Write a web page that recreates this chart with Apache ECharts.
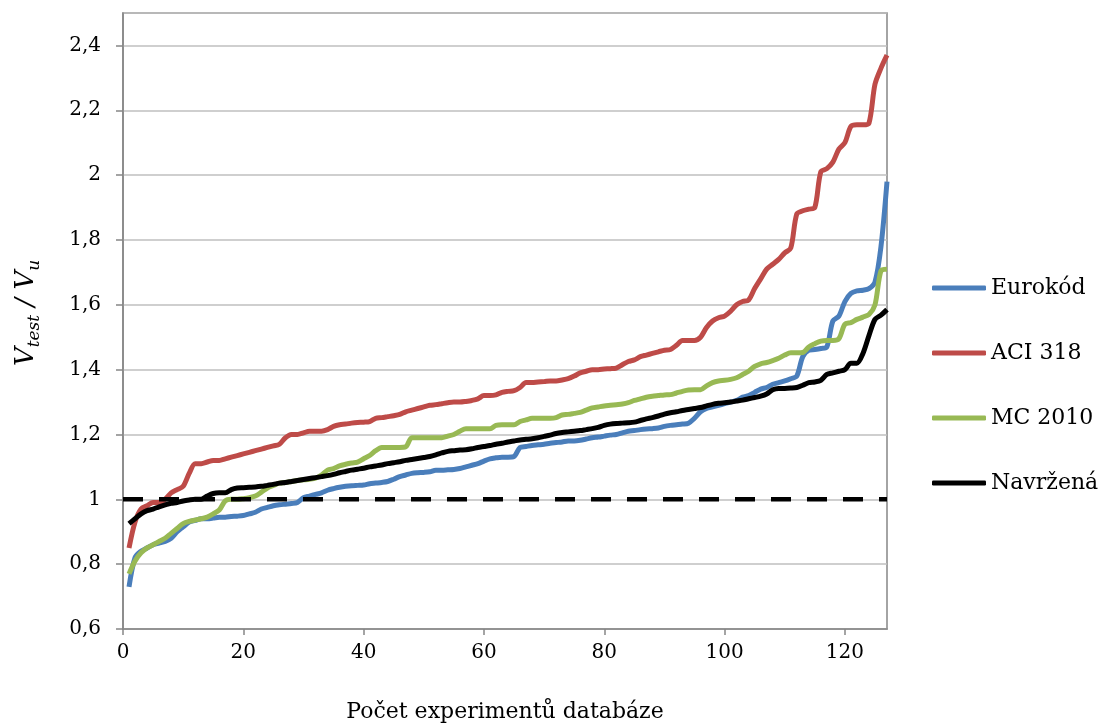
<!DOCTYPE html>
<html>
<head>
<meta charset="utf-8">
<script src="https://cdn.jsdelivr.net/npm/echarts@6/dist/echarts.min.js"></script>
<style>
html, body { margin: 0; padding: 0; background: #fff; }
#chart { width: 1109px; height: 724px; }
</style>
</head>
<body>
<div id="chart"></div>
<script>
// hodnoty Vtest/Vu serazene podle velikosti, experiment 1..127
var eurokod = [
    0.73, 0.82, 0.84, 0.85, 0.86, 0.865, 0.87, 0.88, 0.90, 0.915,
    0.93, 0.935, 0.94, 0.94, 0.942, 0.945, 0.945, 0.947, 0.948, 0.95,
    0.955, 0.96, 0.97, 0.975, 0.98, 0.983, 0.985, 0.987, 0.99, 1.005,
    1.01, 1.015, 1.02, 1.028, 1.033, 1.037, 1.04, 1.042, 1.043, 1.044,
    1.048, 1.05, 1.052, 1.055, 1.062, 1.07, 1.075, 1.08, 1.082, 1.083,
    1.085, 1.09, 1.09, 1.091, 1.092, 1.095, 1.10, 1.105, 1.11, 1.118,
    1.125, 1.128, 1.13, 1.13, 1.132, 1.16, 1.163, 1.166, 1.168, 1.17,
    1.173, 1.175, 1.177, 1.18, 1.18, 1.182, 1.186, 1.19, 1.192, 1.195,
    1.198, 1.20, 1.205, 1.21, 1.212, 1.215, 1.217, 1.218, 1.22, 1.225,
    1.228, 1.23, 1.232, 1.235, 1.25, 1.27, 1.28, 1.285, 1.29, 1.295,
    1.30, 1.305, 1.315, 1.32, 1.33, 1.34, 1.345, 1.355, 1.36, 1.365,
    1.372, 1.38, 1.44, 1.46, 1.462, 1.465, 1.47, 1.55, 1.565, 1.61,
    1.635, 1.643, 1.645, 1.65, 1.67, 1.78, 1.98
];
var aci318 = [
    0.85, 0.93, 0.97, 0.98, 0.99, 0.99, 1.00, 1.02, 1.03, 1.04,
    1.08, 1.11, 1.11, 1.115, 1.12, 1.12, 1.125, 1.13, 1.135, 1.14,
    1.145, 1.15, 1.155, 1.16, 1.165, 1.17, 1.19, 1.20, 1.20, 1.205,
    1.21, 1.21, 1.21, 1.215, 1.225, 1.23, 1.232, 1.235, 1.237, 1.238,
    1.24, 1.25, 1.252, 1.255, 1.258, 1.262, 1.27, 1.275, 1.28, 1.285,
    1.29, 1.292, 1.295, 1.298, 1.30, 1.30, 1.302, 1.305, 1.31, 1.32,
    1.32, 1.322, 1.33, 1.333, 1.335, 1.345, 1.36, 1.36, 1.362, 1.363,
    1.365, 1.365, 1.368, 1.372, 1.38, 1.39, 1.395, 1.40, 1.40, 1.402,
    1.403, 1.405, 1.415, 1.425, 1.43, 1.44, 1.445, 1.45, 1.455, 1.46,
    1.462, 1.475, 1.49, 1.49, 1.49, 1.50, 1.53, 1.55, 1.56, 1.565,
    1.58, 1.60, 1.61, 1.615, 1.65, 1.68, 1.71, 1.725, 1.74, 1.76,
    1.775, 1.88, 1.89, 1.895, 1.90, 2.01, 2.02, 2.04, 2.08, 2.10,
    2.15, 2.155, 2.155, 2.16, 2.28, 2.33, 2.37
];
var mc2010 = [
    0.77, 0.81, 0.835, 0.85, 0.86, 0.87, 0.88, 0.895, 0.91, 0.925,
    0.932, 0.936, 0.94, 0.945, 0.955, 0.967, 0.995, 1.0, 1.0, 1.002,
    1.005, 1.01, 1.022, 1.035, 1.043, 1.05, 1.052, 1.055, 1.058, 1.06,
    1.062, 1.065, 1.075, 1.09, 1.095, 1.103, 1.108, 1.112, 1.115, 1.125,
    1.135, 1.15, 1.16, 1.16, 1.16, 1.16, 1.162, 1.19, 1.19, 1.19,
    1.19, 1.19, 1.19, 1.195, 1.20, 1.21, 1.218, 1.218, 1.218, 1.218,
    1.218, 1.228, 1.23, 1.23, 1.23, 1.24, 1.245, 1.25, 1.25, 1.25,
    1.25, 1.252, 1.26, 1.262, 1.265, 1.268, 1.275, 1.282, 1.285, 1.288,
    1.29, 1.292, 1.294, 1.298, 1.305, 1.31, 1.315, 1.318, 1.32, 1.322,
    1.323, 1.328, 1.333, 1.337, 1.338, 1.338, 1.35, 1.36, 1.365, 1.367,
    1.37, 1.375, 1.385, 1.395, 1.41, 1.418, 1.422, 1.428, 1.435, 1.445,
    1.452, 1.452, 1.453, 1.47, 1.48, 1.488, 1.49, 1.49, 1.495, 1.54,
    1.545, 1.555, 1.562, 1.57, 1.60, 1.705, 1.71
];
var navrzena = [
    0.925, 0.94, 0.955, 0.965, 0.97, 0.977, 0.983, 0.988, 0.99, 0.995,
    0.998, 1.0, 1.0, 1.01, 1.018, 1.02, 1.02, 1.03, 1.035, 1.036,
    1.037, 1.038, 1.04, 1.043, 1.046, 1.05, 1.052, 1.055, 1.058, 1.061,
    1.064, 1.067, 1.07, 1.073, 1.077, 1.082, 1.086, 1.09, 1.093, 1.096,
    1.1, 1.103, 1.106, 1.11, 1.113, 1.116, 1.12, 1.123, 1.126, 1.129,
    1.132, 1.137, 1.143, 1.148, 1.15, 1.152, 1.153, 1.156, 1.16, 1.163,
    1.166, 1.17, 1.173, 1.177, 1.18, 1.183, 1.185, 1.187, 1.19, 1.194,
    1.198, 1.203, 1.206, 1.208, 1.21, 1.212, 1.215, 1.218, 1.222, 1.228,
    1.232, 1.234, 1.235, 1.236, 1.238, 1.243, 1.248, 1.252, 1.257, 1.263,
    1.267, 1.27, 1.274, 1.277, 1.28, 1.283, 1.288, 1.293, 1.296, 1.298,
    1.30, 1.303, 1.306, 1.31, 1.314, 1.318, 1.325, 1.338, 1.342, 1.342,
    1.343, 1.345, 1.352, 1.36, 1.362, 1.367, 1.385, 1.39, 1.395, 1.40,
    1.42, 1.42, 1.45, 1.505, 1.555, 1.568, 1.585
];
var seriesNames = ['Eurokód', 'ACI 318', 'MC 2010', 'Navržená'];
var seriesColors = ['#4A7EBB', '#BE4B48', '#98B954', '#000000'];
var limitLine = [[0, 1], [127, 1]];

function toPairs(arr) {
    var out = [];
    for (var i = 0; i < arr.length; i++) {
        out.push([i + 1, arr[i]]);
    }
    return out;
}

var font = 'DejaVu Serif';
var chart = echarts.init(document.getElementById('chart'));

var seriesData = [eurokod, aci318, mc2010, navrzena];
var series = [];
for (var k = 0; k < seriesData.length; k++) {
    series.push({
        name: seriesNames[k],
        type: 'line',
        data: toPairs(seriesData[k]),
        smooth: 0.3,
        symbol: 'none',
        color: seriesColors[k],
        lineStyle: { width: 5, color: seriesColors[k] }
    });
}
series.push({
    name: 'limit',
    type: 'line',
    data: limitLine,
    symbol: 'none',
    lineStyle: { width: 4.5, color: '#000', type: [20, 16] },
    silent: true
});

option = {
    animation: false,
    backgroundColor: '#fff',
    grid: {
        left: 123,
        right: 222,
        top: 13,
        bottom: 95,
        outerBoundsMode: 'none',
        show: true,
        borderColor: '#868686',
        borderWidth: 1.5
    },
    legend: {
        data: seriesNames,
        orient: 'vertical',
        left: 927,
        top: 272,
        icon: 'roundRect',
        itemWidth: 54,
        itemHeight: 5,
        itemGap: 43,
        textStyle: { fontFamily: font, fontSize: 22, color: '#000' }
    },
    xAxis: {
        type: 'value',
        min: 0,
        max: 127,
        interval: 20,
        name: 'Počet experimentů databáze',
        nameLocation: 'middle',
        nameGap: 72,
        nameTextStyle: { fontFamily: font, fontSize: 22, color: '#000' },
        axisLine: { lineStyle: { color: '#868686', width: 1.5 } },
        axisTick: { show: true, inside: false, length: 6, lineStyle: { color: '#868686', width: 1.5 } },
        axisLabel: { showMaxLabel: false, margin: 14, fontFamily: font, fontSize: 20, color: '#000' },
        splitLine: { show: false }
    },
    yAxis: {
        type: 'value',
        min: 0.6,
        max: 2.5,
        interval: 0.2,
        name: '{v|V}{s|test}{v| / V}{s|u}',
        nameLocation: 'middle',
        nameRotate: 90,
        nameGap: 80,
        nameTextStyle: {
            fontFamily: font,
            color: '#000',
            padding: [0, 0, 0, 16],
            rich: {
                v: { fontFamily: font, fontStyle: 'italic', fontSize: 26, lineHeight: 34, color: '#000' },
                s: { fontFamily: font, fontStyle: 'italic', fontSize: 17, lineHeight: 17, verticalAlign: 'bottom', color: '#000' }
            }
        },
        axisLine: { show: true, lineStyle: { color: '#868686', width: 1.5 } },
        axisTick: { show: true, inside: false, length: 7, lineStyle: { color: '#868686', width: 1.5 } },
        axisLabel: {
            showMaxLabel: false,
            margin: 22,
            fontFamily: font,
            fontSize: 20,
            color: '#000',
            formatter: function (v) {
                return String(Math.round(v * 10) / 10).replace('.', ',');
            }
        },
        splitLine: { show: true, lineStyle: { color: '#BFBFBF', width: 1.5 } }
    },
    series: series
};
chart.setOption(option);
</script>
</body>
</html>
